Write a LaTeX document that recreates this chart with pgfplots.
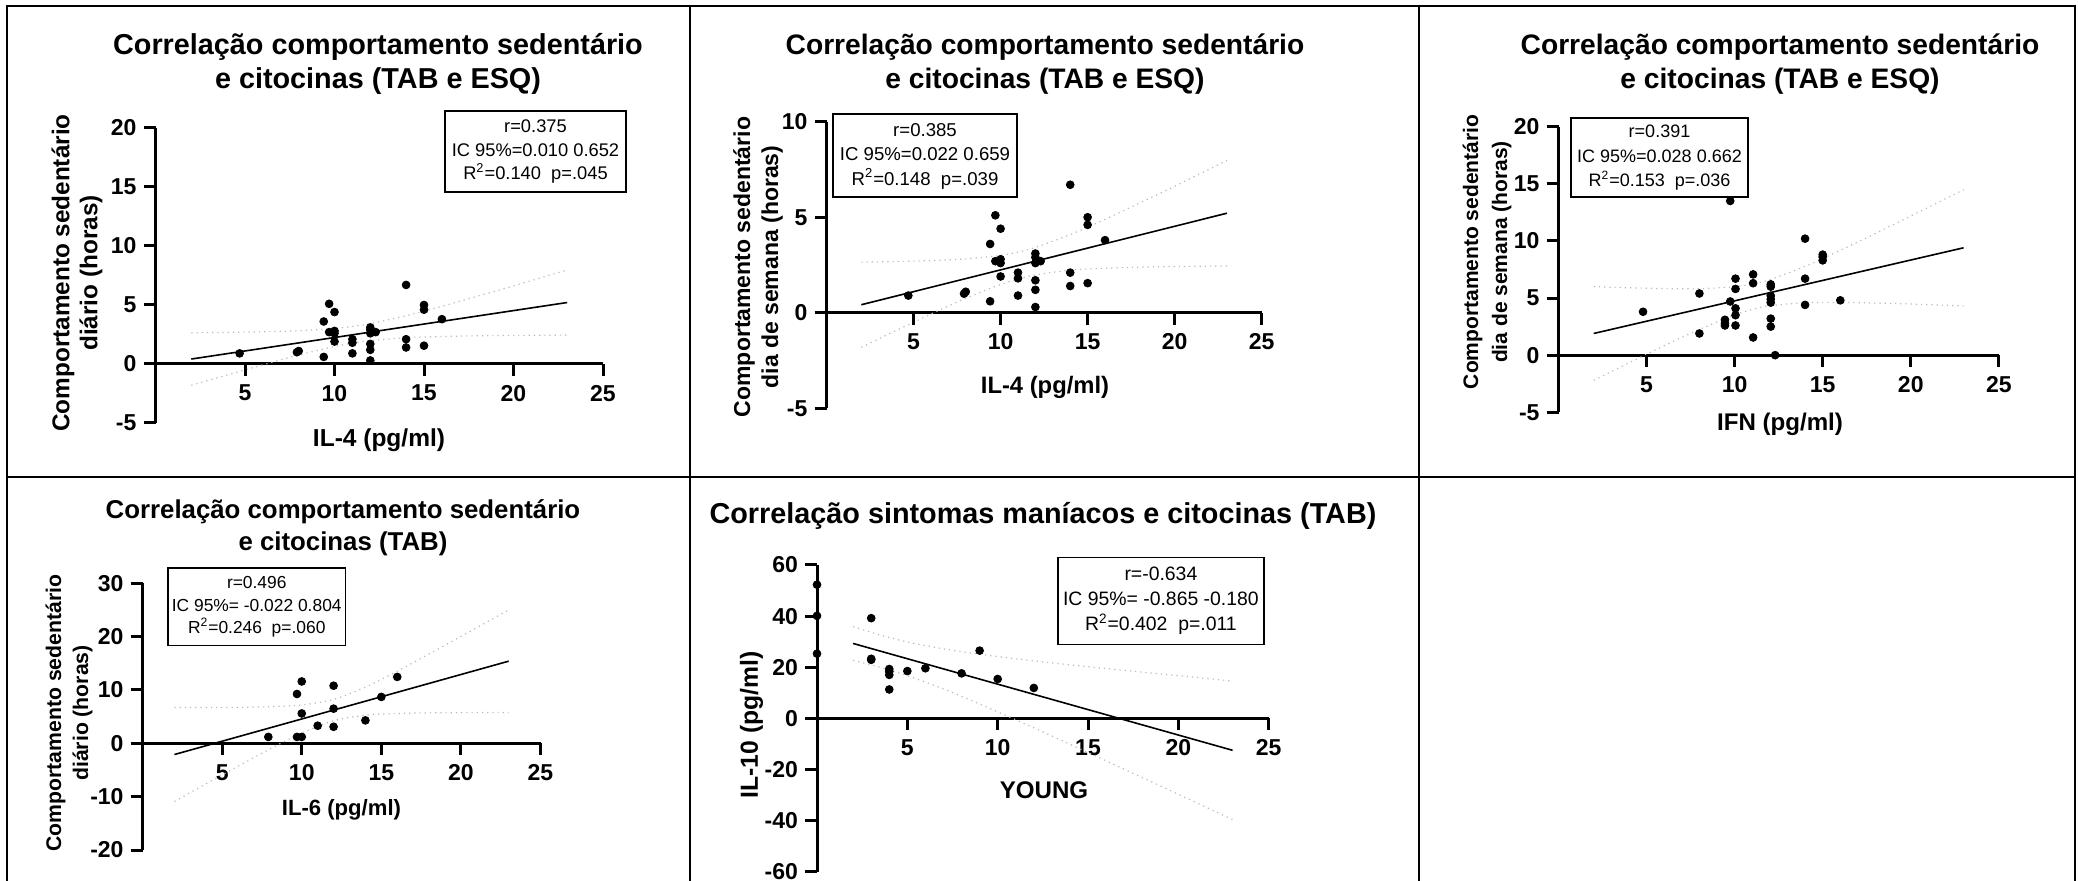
\documentclass[border=0pt]{standalone}
\usepackage{pgfplots}
\pgfplotsset{compat=1.18}
\usepackage{pgfplotstable}
\usepackage{fontspec}
\setmainfont{Liberation Sans}
\newcommand\fs[2]{\fontsize{#1}{#2}\selectfont}

% IL-4 vs sedentary (panels 1 and 2)
\pgfplotstableread{
x y
4.7 0.9
7.9 1.0
8.0 1.1
9.4 0.6
9.4 3.6
9.7 5.1
9.7 2.7
10.0 4.4
10.0 2.8
10.0 2.6
10.0 1.9
11.0 2.1
11.0 1.8
11.0 0.9
12.0 3.1
12.0 2.9
12.0 2.6
12.3 2.7
12.0 1.7
12.0 1.2
12.0 0.3
14.0 6.7
14.0 2.1
14.0 1.4
15.0 5.0
15.0 4.6
15.0 1.55
16.0 3.8
}\dataA
\pgfplotstableread{
x u l
2 2.65 -1.81
4 2.68 -0.93
6 2.73 -0.07
8 2.82 0.76
10 3.00 1.48
11.3 3.24 1.84
12 3.42 1.98
14 4.09 2.23
16 4.89 2.33
18 5.75 2.39
20 6.62 2.42
23 7.97 2.45
}\bandA

% IFN
\pgfplotstableread{
x y
4.8 3.8
8.0 5.4
8.0 1.9
9.45 3.1
9.45 2.8
9.45 2.6
9.75 4.7
9.75 13.5
10.05 6.7
10.05 5.8
10.05 4.1
10.05 3.5
10.05 2.6
11.05 7.07
11.05 6.3
11.05 1.55
12.05 6.2
12.05 6.0
12.05 5.2
12.05 4.9
12.05 4.6
12.05 3.2
12.05 2.5
12.3 0.0
14.0 10.2
14.0 6.7
14.0 4.4
15.0 8.8
15.0 8.6
15.0 8.3
16.0 4.8
}\dataC
\pgfplotstableread{
x u l
2 6.00 -2.20
4 5.90 -0.68
6 5.83 0.83
8 5.82 2.26
10 5.99 3.53
11.3 6.32 4.12
12 6.61 4.33
14 7.77 4.59
16 9.18 4.62
18 10.66 4.56
20 12.18 4.48
23 14.49 4.31
}\bandC

% IL-6
\pgfplotstableread{
x y
7.9 1.2
9.7 9.25
9.7 1.2
10.0 11.6
10.0 5.6
10.0 1.2
11.0 3.3
12.0 10.8
12.0 6.5
12.0 3.1
14.0 4.3
15.0 8.7
16.0 12.45
}\dataD
\pgfplotstableread{
x u l
2 6.70 -10.90
4 6.71 -7.57
6 6.75 -4.29
8 6.87 -1.07
10 7.19 1.93
12 8.23 4.23
14 10.53 5.27
16 13.53 5.59
18 16.75 5.71
20 20.03 5.75
23 25.00 5.77
}\bandD

% IL-10 vs YOUNG
\pgfplotstableread{
x y
0 52.3
0 40.1
0 25.3
3 39.2
3 23.3
3 22.9
4 19.3
4 18.3
4 17.0
4 11.3
5 18.5
6 19.6
8 17.6
9 26.5
10 15.4
12 11.9
}\dataE
\pgfplotstableread{
x u l
2 35.9 22.7
3.5 32.6 20.0
5 29.9 16.7
7 27.2 11.5
9 25.1 5.6
11 23.3 -0.55
13 21.7 -6.9
15 20.2 -13.4
17 18.8 -19.9
19 17.4 -26.4
21 16.0 -33.0
23 14.6 -39.6
}\bandE

\newcommand\xticksdown{%
  \pgfplotsinvokeforeach{5,10,15,20,25}{%
    \draw[line width=1.5pt] (axis cs:##1,0) -- ([yshift=-6pt]axis cs:##1,0);}}

\pgfplotsset{
  prism/.style={
    scale only axis, clip=false, anchor=south west,
    axis x line=middle, axis y line=left,
    axis line style={-, line width=1.5pt, black},
    xmin=0, xmax=25, xtick={5,10,15,20,25},
    xticklabels={\textbf{5},\textbf{10},\textbf{15},\textbf{20},\textbf{25}},
    tick align=outside, major tick length=6pt,
    every tick/.style={black, line width=1.5pt},
    x tick style={draw=none},
    hide obscured x ticks=false, hide obscured y ticks=false,
    tick label style={font=\bfseries\fs{11.5}{12}},
    xticklabel style={yshift=-1pt},
  },
  pts/.style={only marks, mark=*, mark size=1.95pt, black},
  reg/.style={black, line width=0.8pt},
  band/.style={gray!55, line width=0.6pt, dotted, smooth},
}

\begin{document}
\begin{tikzpicture}
\begin{scope}[x=0.5pt,y=-0.5pt]
% table frame
\draw[line width=1.3pt] (7,881) -- (7,6) -- (2075,6) -- (2075,881);
\draw[line width=1.3pt] (7,477) -- (2075,477);
\draw[line width=1.3pt] (690,6) -- (690,881);
\draw[line width=1.3pt] (1419,6) -- (1419,881);
\end{scope}

% Panel 1
\begin{axis}[prism, at={(77.75pt,-211.5pt)}, width=223.75pt, height=147.5pt,
  ymin=-5, ymax=20, ytick={-5,0,5,10,15,20},
  yticklabels={\textbf{-5},\textbf{0},\textbf{5},\textbf{10},\textbf{15},\textbf{20}}]
\addplot[band] table[x=x,y=u] {\bandA};
\addplot[band] table[x=x,y=l] {\bandA};
\addplot[reg] coordinates {(2,0.42) (23,5.21)};
\addplot[pts] table[x=x,y=y] {\dataA};
\xticksdown
\end{axis}

% Panel 2
\begin{axis}[prism, at={(413.25pt,-204.15pt)}, width=217.6pt, height=143.3pt,
  ymin=-5, ymax=10, ytick={-5,0,5,10},
  yticklabels={\textbf{-5},\textbf{0},\textbf{5},\textbf{10}}]
\addplot[band] table[x=x,y=u] {\bandA};
\addplot[band] table[x=x,y=l] {\bandA};
\addplot[reg] coordinates {(2,0.42) (23,5.21)};
\addplot[pts] table[x=x,y=y] {\dataA};
\xticksdown
\end{axis}

% Panel 3
\begin{axis}[prism, at={(779.25pt,-206.15pt)}, width=220.15pt, height=142.8pt,
  ymin=-5, ymax=20, ytick={-5,0,5,10,15,20},
  yticklabels={\textbf{-5},\textbf{0},\textbf{5},\textbf{10},\textbf{15},\textbf{20}}]
\addplot[band] table[x=x,y=u] {\bandC};
\addplot[band] table[x=x,y=l] {\bandC};
\addplot[reg] coordinates {(2,1.9) (23,9.4)};
\addplot[pts] table[x=x,y=y] {\dataC};
\xticksdown
\end{axis}

% Panel 4
\begin{axis}[prism, at={(71.3pt,-425pt)}, width=198.95pt, height=133.35pt,
  ymin=-20, ymax=30, ytick={-20,-10,0,10,20,30},
  yticklabels={\textbf{-20},\textbf{-10},\textbf{0},\textbf{10},\textbf{20},\textbf{30}}]
\addplot[band] table[x=x,y=u] {\bandD};
\addplot[band] table[x=x,y=l] {\bandD};
\addplot[reg] coordinates {(2,-2.1) (23,15.4)};
\addplot[pts] table[x=x,y=y] {\dataD};
\xticksdown
\end{axis}

% Panel 5
\begin{axis}[prism, at={(408.5pt,-435.85pt)}, width=225.85pt, height=153.35pt,
  ymin=-60, ymax=60, ytick={-60,-40,-20,0,20,40,60},
  yticklabels={\textbf{-60},\textbf{-40},\textbf{-20},\textbf{0},\textbf{20},\textbf{40},\textbf{60}}]
\addplot[band] table[x=x,y=u] {\bandE};
\addplot[band] table[x=x,y=l] {\bandE};
\addplot[reg] coordinates {(2,29.3) (23,-12.5)};
\addplot[pts] table[x=x,y=y] {\dataE};
\xticksdown
\end{axis}

\begin{scope}[x=0.5pt,y=-0.5pt]
% Titles
\node[anchor=base, font=\bfseries\fs{14.4}{16}] at (378,55) {Correlação comportamento sedentário};
\node[anchor=base, font=\bfseries\fs{14.4}{16}] at (378,89) {e citocinas (TAB e ESQ)};
\node[anchor=base, font=\bfseries\fs{14.1}{16}] at (1045,55) {Correlação comportamento sedentário};
\node[anchor=base, font=\bfseries\fs{14.1}{16}] at (1045,89) {e citocinas (TAB e ESQ)};
\node[anchor=base, font=\bfseries\fs{14.1}{16}] at (1780,55) {Correlação comportamento sedentário};
\node[anchor=base, font=\bfseries\fs{14.1}{16}] at (1780,89) {e citocinas (TAB e ESQ)};
\node[anchor=base, font=\bfseries\fs{12.9}{15}] at (343,519) {Correlação comportamento sedentário};
\node[anchor=base, font=\bfseries\fs{12.9}{15}] at (343,551) {e citocinas (TAB)};
\node[anchor=base, font=\bfseries\fs{14.4}{16}] at (1043,524) {Correlação sintomas maníacos e citocinas (TAB)};
% x labels
\node[anchor=base, font=\bfseries\fs{12.25}{14}] at (379,447) {IL-4 (pg/ml)};
\node[anchor=base, font=\bfseries\fs{11.9}{14}] at (1045,394) {IL-4 (pg/ml)};
\node[anchor=base, font=\bfseries\fs{12.05}{14}] at (1780,431) {IFN (pg/ml)};
\node[anchor=base, font=\bfseries\fs{11.05}{13}] at (341.5,815) {IL-6 (pg/ml)};
\node[anchor=base, font=\bfseries\fs{12.05}{14}] at (1044,798) {YOUNG};
% y labels
\node[rotate=90, align=center, font=\bfseries\fs{12.15}{14}] at (77,273) {Comportamento sedentário\\diário (horas)};
\node[rotate=90, align=center, font=\bfseries\fs{11.5}{14}] at (758,267) {Comportamento sedentário\\dia de semana (horas)};
\node[rotate=90, align=center, font=\bfseries\fs{10.5}{14.5}] at (1487,252) {Comportamento sedentário\\dia de semana (horas)};
\node[rotate=90, align=center, font=\bfseries\fs{10.6}{13.5}] at (69,713) {Comportamento sedentário\\diário (horas)};
\node[rotate=90, align=center, font=\bfseries\fs{12.35}{14}] at (751.5,725) {IL-10 (pg/ml)};
% stat boxes
\draw[line width=0.75pt, fill=white] (445,111) rectangle (626,192);
\node[align=center, font=\fs{9.15}{11.75}] at (535.5,152) {r=0.375\\IC 95\%=0.010 0.652\\R\textsuperscript{2}=0.140\ \ p=.045};
\draw[line width=0.75pt, fill=white] (833,114) rectangle (1017,197);
\node[align=center, font=\fs{9.3}{12.25}] at (925,156) {r=0.385\\IC 95\%=0.022 0.659\\R\textsuperscript{2}=0.148\ \ p=.039};
\draw[line width=0.75pt, fill=white] (1571,118) rectangle (1748,197);
\node[align=center, font=\fs{9.0}{12.25}] at (1659.5,158) {r=0.391\\IC 95\%=0.028 0.662\\R\textsuperscript{2}=0.153\ \ p=.036};
\draw[line width=0.75pt, fill=white] (168,568) rectangle (345.5,645.7);
\node[align=center, font=\fs{8.7}{11.25}] at (256.75,607) {r=0.496\\IC 95\%= -0.022 0.804\\R\textsuperscript{2}=0.246\ \ p=.060};
\draw[line width=0.75pt, fill=white] (1057.8,557.7) rectangle (1264,644.3);
\node[align=center, font=\fs{9.7}{12.5}] at (1160.9,601) {r=-0.634\\IC 95\%= -0.865 -0.180\\R\textsuperscript{2}=0.402\ \ p=.011};
\pgfresetboundingbox
\useasboundingbox (0,0) rectangle (2078,881);
\end{scope}
\end{tikzpicture}
\end{document}
